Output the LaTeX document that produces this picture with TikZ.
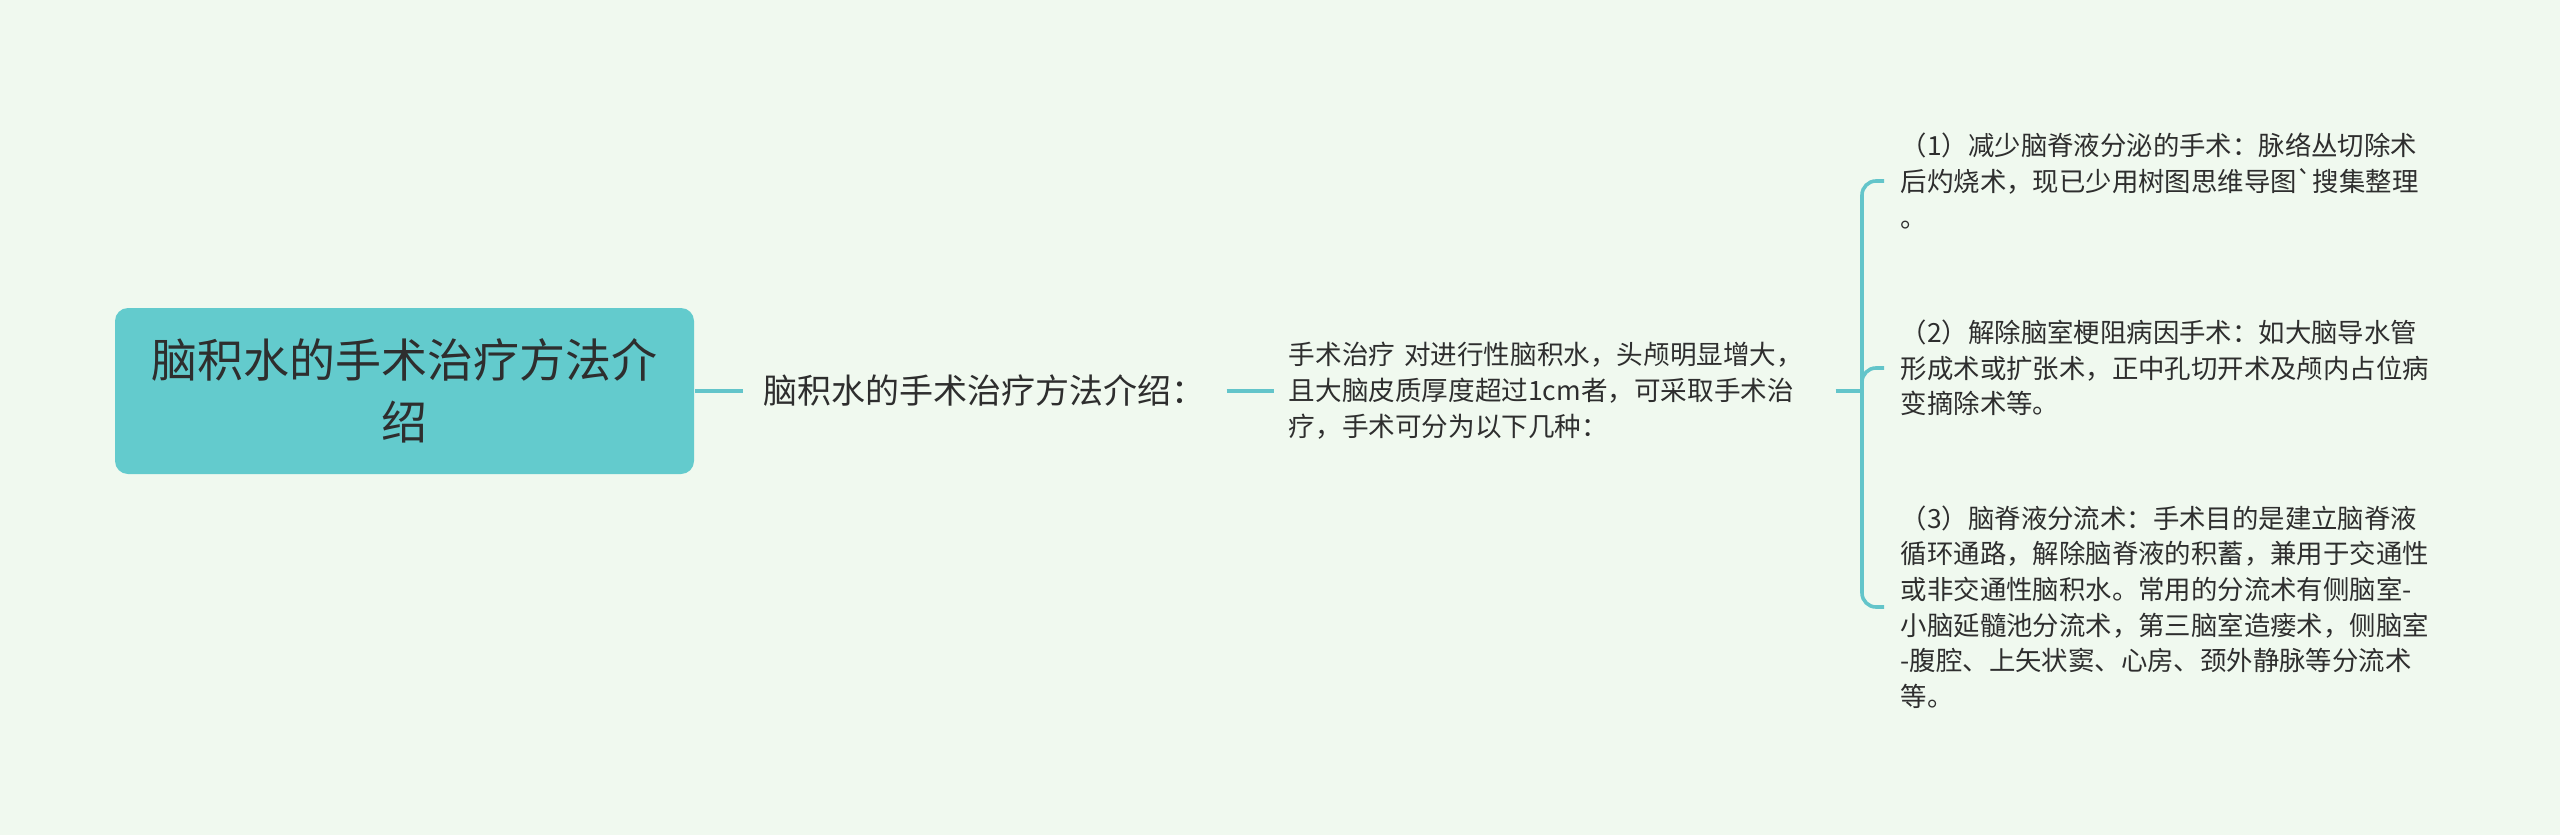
\documentclass[tikz,border=0pt]{standalone}
\usepackage{fontspec}
\setmainfont{Noto Sans CJK SC}[Ligatures=TeXOff]
\usetikzlibrary{positioning}
\definecolor{bgcol}{HTML}{F0F9EF}
\definecolor{rootcol}{HTML}{63CBCD}
\definecolor{linecol}{HTML}{63C5CA}
\definecolor{txtcol}{HTML}{2E2E2E}
\begin{document}
\begin{tikzpicture}[x=0.25pt, y=-0.25pt,
    rootbox/.style ={rectangle, rounded corners=3.25pt, fill=rootcol, text=txtcol,
      minimum width=144.75pt, minimum height=41.5pt, align=center,
      font=\fontsize{11.5}{15.5}\selectfont},
    topic/.style ={text=txtcol, inner xsep=5pt, inner ysep=0pt,
      font=\fontsize{8.5}{11}\selectfont},
    detail/.style ={text=txtcol, inner xsep=3.5pt, inner ysep=0pt, align=left,
      text width=133pt, font=\fontsize{6.65}{9}\selectfont},
    leaf/.style ={text=txtcol, inner xsep=4pt, inner ysep=0pt, align=left,
      font=\fontsize{6.6}{8.9}\selectfont},
    link/.style ={draw=linecol, line width=0.9pt}]
   \useasboundingbox[fill=bgcol] (0,0) rectangle (2560,835);
   \node[rootbox] (root) at (404.5,391) {脑积水的手术治疗方法介\\绍};
   \node[topic, anchor=west] (intro) at (743,391) {脑积水的手术治疗方法介绍：};
   \node[detail, anchor=west] (how) at (1274,391)
     {手术治疗 对进行性脑积水，头颅明显增大，\\且大脑皮质厚度超过1cm者，可采取手术治\\疗，手术可分为以下几种：};
   \coordinate (fork) at (1862,391);
   \node[leaf, anchor=west] (c1) at (1884,181)
     {（1）减少脑脊液分泌的手术：脉络丛切除术\\后灼烧术，现已少用树图思维导图`搜集整理\\。};
   \node[leaf, anchor=west] (c2) at (1884,368)
     {（2）解除脑室梗阻病因手术：如大脑导水管\\形成术或扩张术，正中孔切开术及颅内占位病\\变摘除术等。};
   \node[leaf, anchor=west] (c3) at (1884,607)
     {（3）脑脊液分流术：手术目的是建立脑脊液\\循环通路，解除脑脊液的积蓄，兼用于交通性\\或非交通性脑积水。常用的分流术有侧脑室-\\小脑延髓池分流术，第三脑室造瘘术，侧脑室\\-腹腔、上矢状窦、心房、颈外静脉等分流术\\等。};
   \draw[link] (root) to (intro);
   \draw[link] (intro) to (how);
   \draw[link] (how) to (fork);
   \draw[link, rounded corners=3.5pt] (fork) |- (c1.west);
   \draw[link, rounded corners=3.5pt] (fork) |- (c2.west);
   \draw[link, rounded corners=3.5pt] (fork) |- (c3.west);
\end{tikzpicture}
\end{document}
